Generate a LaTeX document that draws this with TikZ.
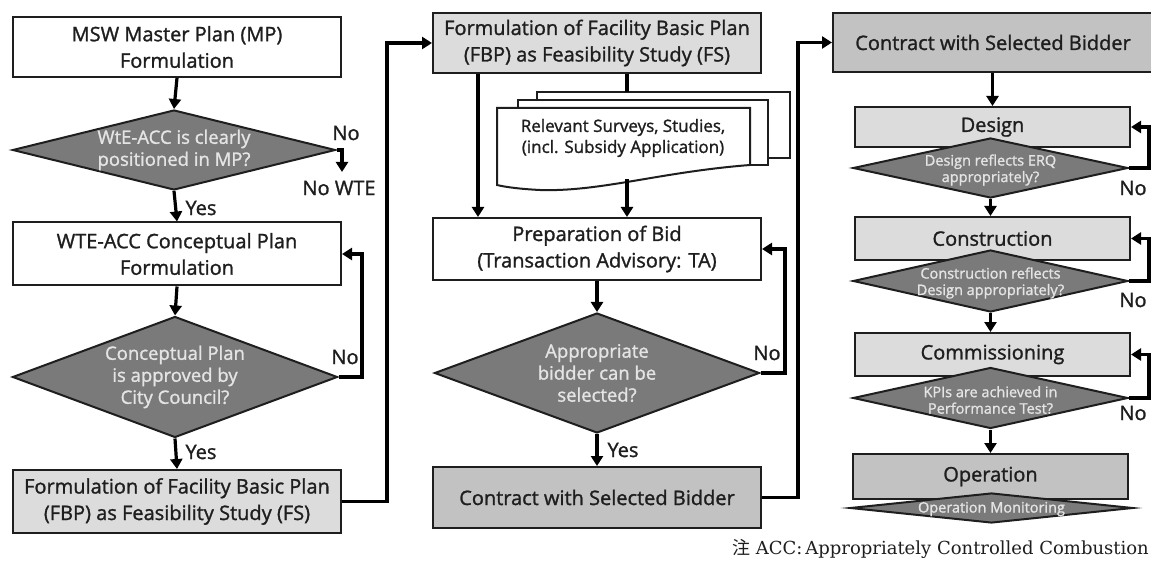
\documentclass[tikz,border=0pt]{standalone}
\usepackage{fontspec}
\usetikzlibrary{shapes.geometric,arrows.meta,calc}
\newfontfamily\osf[FakeBold=1.3]{Open Sans}
\newfontfamily\cjkf{Noto Sans CJK JP}
\newfontfamily\serf{DejaVu Serif}
\newcommand\bxf{\osf\fontsize{20}{26.5}\selectfont}
\newcommand\dxf{\osf\fontsize{18.5}{22}\selectfont}
\newcommand\smf{\osf\fontsize{14.5}{16.5}\selectfont}
\definecolor{lg}{HTML}{DCDCDC}
\definecolor{mg}{HTML}{C2C2C2}
\definecolor{dg}{HTML}{7A7A7A}
\definecolor{ink}{HTML}{1E1E1E}
\definecolor{wt}{HTML}{E4E4E4}
\tikzset{
 box/.style={draw=ink, line width=2pt, rectangle, inner sep=0pt, align=center, font=\bxf, text=ink},
 dia/.style={draw=ink, line width=2pt, diamond, inner sep=0pt, fill=dg},
 diat/.style={align=center, text=wt, font=\dxf, inner sep=0pt},
 diats/.style={align=center, text=wt, font=\smf, inner sep=0pt},
 arr/.style={line width=3.2pt, draw=black, -{Triangle[length=10pt,width=12pt]}},
 ln/.style={line width=3.2pt, draw=black},
 lab/.style={font=\bxf, text=ink, inner sep=0pt},
 docst/.style={draw=ink, line width=2pt, fill=white},
}
\begin{document}
\begin{tikzpicture}[x=1pt,y=-1pt]
\useasboundingbox (0,0) rectangle (1151,561);
% ---------- column 1
\node[box, fill=white, minimum width=328pt, minimum height=60pt] (mp) at (177,47) {MSW Master Plan (MP)\\Formulation};
\node[dia, minimum width=323pt, minimum height=80pt] (d1) at (174,150) {};
\node[diat] at (d1) {WtE-ACC is clearly\\positioned in MP?};
\node[box, fill=white, minimum width=328pt, minimum height=63pt] (wte) at (177,254) {WTE-ACC Conceptual Plan\\Formulation};
\node[dia, minimum width=325pt, minimum height=121pt] (d2) at (175,377) {};
\node[diat] at (d2) {Conceptual Plan\\is approved by\\City Council?};
\node[box, fill=lg, minimum width=328pt, minimum height=63pt] (fbp1) at (177,501.5) {Formulation of Facility Basic Plan\\(FBP) as Feasibility Study (FS)};
\coordinate (nowte) at (342,172);
\draw[arr] (mp.south) -- (d1.north);
\draw[arr] (d1.east) -| (nowte);
\node[lab] at (346,133) {No};
\node[lab] at (339,188) {No WTE};
\draw[arr] (d1.south) -- (wte.north);
\node[lab] at (201,208) {Yes};
\draw[arr] (wte.south) -- (d2.north);
\coordinate (l2) at (362,0);
\draw[arr] (d2.east) -- (d2.east -| l2) |- (wte.east);
\node[lab] at (345,357) {No};
\draw[arr] (d2.south) -- (fbp1.north);
\node[lab] at (201,452) {Yes};
% ---------- column 2
\node[box, fill=lg, minimum width=328pt, minimum height=60pt] (fbp2) at (597,43) {Formulation of Facility Basic Plan\\(FBP) as Feasibility Study (FS)};
\node[box, fill=white, minimum width=328pt, minimum height=62pt] (prep) at (597,249) {Preparation of Bid\\(Transaction Advisory: TA)};
\node[dia, minimum width=325pt, minimum height=120pt] (d3) at (597,373) {};
\node[diat] at (d3) {Appropriate\\bidder can be\\selected?};
\node[box, fill=mg, minimum width=328pt, minimum height=61pt] (con2) at (597,497.5) {Contract with Selected Bidder};
\coordinate (l1) at (387,0);
\draw[arr] (fbp1.east) -- (fbp1.east -| l1) |- (fbp2.west);
% documents
\draw[docst] (537,92) rectangle (790,158);
\draw[docst] (518,100) rectangle (768,165);
\draw[docst] (497,108) -- (750,108) -- (750,165) .. controls (660,172) and (600,192) .. (540,190) .. controls (520,189) and (505,187) .. (497,185) -- cycle;
\node[font=\osf\fontsize{17}{21}\selectfont, text=ink, align=center] (docs) at (623,138) {Relevant Surveys, Studies,\\(incl. Subsidy Application)};
\coordinate (doctop) at (627,92);
\coordinate (docbot) at (627,179);
\coordinate (cl) at (478,0);
\draw[arr] (fbp2.south -| cl) -- (prep.north -| cl);
\draw[ln] (fbp2.south -| doctop) -- (doctop);
\draw[arr] (docbot) -- (prep.north -| docbot);
\draw[arr] (prep.south) -- (d3.north);
\coordinate (l3) at (785,0);
\draw[arr] (d3.east) -- (d3.east -| l3) |- (prep.east);
\node[lab] at (767,353) {No};
\draw[arr] (d3.south) -- (con2.north);
\node[lab] at (623,450) {Yes};
% ---------- column 3
\node[box, fill=mg, minimum width=320pt, minimum height=59pt] (con3) at (993,42.5) {Contract with Selected Bidder};
\coordinate (l4) at (798,0);
\draw[arr] (con2.east) -- (con2.east -| l4) |- (con3.west);
\node[box, fill=lg, minimum width=275pt, minimum height=40pt] (des) at (992.5,127) {Design};
\node[dia, minimum width=275pt, minimum height=60pt] (dd) at (990.5,168) {};
\node[diats] at ($(dd)+(0,2)$) {Design reflects ERQ\\appropriately?};
\node[box, fill=lg, minimum width=275pt, minimum height=43pt] (cons) at (992.5,238.5) {Construction};
\node[dia, minimum width=275pt, minimum height=62pt] (dc) at (990.5,281) {};
\node[diats] at ($(dc)+(0,2)$) {Construction reflects\\Design appropriately?};
\node[box, fill=lg, minimum width=275pt, minimum height=43pt] (com) at (992.5,354.5) {Commissioning};
\node[dia, minimum width=275pt, minimum height=61pt] (dk) at (990.5,398) {};
\node[diats] at ($(dk)+(0,2)$) {KPIs are achieved in\\Performance Test?};
\node[box, fill=mg, minimum width=275pt, minimum height=45pt] (op) at (990.5,476.5) {Operation};
\node[dia, minimum width=283pt, minimum height=30pt] (dop) at (991.5,508) {};
\node[diats] at ($(dop)+(0,1)$) {Operation Monitoring};
\coordinate (l5) at (1149,0);
\draw[arr] (con3.south -| des.north) -- (des.north);
\draw[arr] (dd.east) -- (dd.east -| l5) |- (des.east);
\node[lab] at (1133,188) {No};
\draw[arr] (dd.south) -- (cons.north -| dd.south);
\draw[arr] (dc.east) -- (dc.east -| l5) |- (cons.east);
\node[lab] at (1133,300) {No};
\draw[arr] (dc.south) -- (com.north -| dc.south);
\draw[arr] (dk.east) -- (dk.east -| l5) |- (com.east);
\node[lab] at (1133,413) {No};
\draw[arr] (dk.south) -- (op.north -| dk.south);
% footnote
\node[anchor=east, inner sep=0pt, text=ink, font=\serf\fontsize{18}{20}\selectfont] (fn) at (1149,549) {{\cjkf 注} ACC:\,Appropriately Controlled Combustion};
\end{tikzpicture}
\end{document}
